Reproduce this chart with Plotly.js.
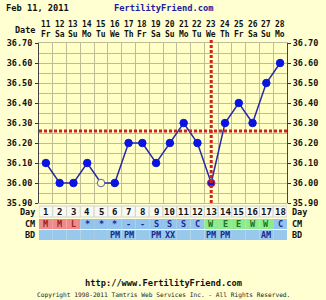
<!DOCTYPE html>
<html><head><meta charset="utf-8">
<script src="https://cdn.plot.ly/plotly-3.0.1.min.js"></script>
<style>html,body{margin:0;padding:0;background:#FFFFD2;}#c{width:326px;height:300px;}</style>
</head><body><div id="c"></div>
<script>
// ---- data ----
const cycleDays = [1,2,3,4,5,6,7,8,9,10,11,12,13,14,15,16,17,18];
const dates = ["11","12","13","14","15","16","17","18","19","20","21","22","23","24","25","26","27","28"];
const weekdays = ["Fr","Sa","Su","Mo","Tu","We","Th","Fr","Sa","Su","Mo","Tu","We","Th","Fr","Sa","Su","Mo"];
const temps = [36.10,36.00,36.00,36.10,36.00,36.00,36.20,36.20,36.10,36.20,36.30,36.20,36.00,36.30,36.40,36.30,36.50,36.60];
const openPointDays = [5];
const ovulationDay = 13;
const coverline = 36.26;
const cmCodes = ["M","M","L","*","*","*","-","-","S","S","S","C","W","E","E","W","W","C"];
const bdCodes = ["","","","","","PM","PM","","PM","XX","","","PM","PM","","","AM",""];
const yTicks = [35.9,36.0,36.1,36.2,36.3,36.4,36.5,36.6,36.7];
const titleDate = "Feb 11, 2011";
const siteName = "FertilityFriend.com";
const footerUrl = "http://www.FertilityFriend.com";
const copyright = "Copyright 1998-2011 Tamtris Web Services Inc. - All Rights Reserved.";

// ---- styling ----
const MONO = "DejaVu Sans Mono, Liberation Mono, monospace";
const gridCol = "#BDBD98";
const H = 300, T = 43, B = 97, PH = H - T - B;
const py = p => (H - B - p) / PH; // pixel y -> paper y
const b = s => "<b>" + s + "</b>";

const cmFill = c => (c === "M" || c === "L") ? "#EE8C8C" : (c === "W" || c === "E") ? "#8CEB8C" : "#94C4EE";
const cmText = c => (c === "M" || c === "L") ? "#A02020" : (c === "W" || c === "E") ? "#207020" : "#1A2A90";

const shapes = [];
const ann = [];

const rows = {day:[206,217], cm:[219,229], bd:[230,240]};
cycleDays.forEach((d, i) => {
  shapes.push({type:"rect", xref:"x", yref:"paper", x0:d-0.5, x1:d+0.5, y0:py(rows.day[1]), y1:py(rows.day[0]),
    fillcolor:"#F8F8F4", line:{color:"#D4D4C8", width:1}, layer:"below"});
  shapes.push({type:"rect", xref:"x", yref:"paper", x0:d-0.5, x1:d+0.5, y0:py(rows.cm[1]), y1:py(rows.cm[0]),
    fillcolor:cmFill(cmCodes[i]), line:{width:0}, layer:"below"});
  shapes.push({type:"rect", xref:"x", yref:"paper", x0:d-0.5, x1:d+0.5, y0:py(rows.bd[1]), y1:py(rows.bd[0]),
    fillcolor:"#98C8EC", line:{width:0}, layer:"below"});
  ann.push({xref:"x", yref:"paper", x:d, y:py(212), text:b(String(d)), showarrow:false,
    font:{family:MONO, size:9, color:"#111"}, yanchor:"middle"});
  ann.push({xref:"x", yref:"paper", x:d, y:py(224), text:b(cmCodes[i]), showarrow:false,
    font:{family:MONO, size:8.5, color:cmText(cmCodes[i])}, yanchor:"middle"});
  if (bdCodes[i]) ann.push({xref:"x", yref:"paper", x:d, y:py(235), text:b(bdCodes[i]), showarrow:false,
    font:{family:MONO, size:8.5, color:"#1A2A90"}, yanchor:"middle"});
  ann.push({xref:"x", yref:"paper", x:d, y:py(25), text:b(dates[i]), showarrow:false,
    font:{family:MONO, size:8, color:"#111"}, yanchor:"middle"});
  ann.push({xref:"x", yref:"paper", x:d, y:py(35), text:b(weekdays[i]), showarrow:false,
    font:{family:MONO, size:8, color:"#111"}, yanchor:"middle"});
});
[["Day",212],["CM",224],["BD",235]].forEach(([t,p]) => {
  ann.push({xref:"paper", yref:"paper", x:0, xshift:-2, xanchor:"right", y:py(p), text:b(t), showarrow:false,
    font:{family:MONO, size:8.5, color:"#111"}, yanchor:"middle"});
  ann.push({xref:"paper", yref:"paper", x:1, xshift:3, xanchor:"left", y:py(p), text:b(t), showarrow:false,
    font:{family:MONO, size:8.5, color:"#111"}, yanchor:"middle"});
});
ann.push({xref:"paper", yref:"paper", x:0, xshift:-2, xanchor:"right", y:py(30), text:b("Date"), showarrow:false,
  font:{family:MONO, size:8.5, color:"#111"}, yanchor:"middle"});
ann.push({xref:"paper", yref:"paper", x:0, xshift:-35, xanchor:"left", y:py(8), text:b(titleDate), showarrow:false,
  font:{family:MONO, size:8.7, color:"#111"}, yanchor:"middle"});
ann.push({xref:"paper", yref:"paper", x:0.5, xanchor:"center", y:py(8), text:b(siteName), showarrow:false,
  font:{family:MONO, size:8.7, color:"#2020A0"}, yanchor:"middle"});
ann.push({xref:"paper", yref:"paper", x:0.5, xanchor:"center", y:py(283), text:b(footerUrl), showarrow:false,
  font:{family:MONO, size:8.7, color:"#111"}, yanchor:"middle"});
ann.push({xref:"paper", yref:"paper", x:0.5, xanchor:"center", y:py(295), text:copyright, showarrow:false,
  font:{family:MONO, size:6.2, color:"#222"}, yanchor:"middle"});

shapes.push({type:"line", xref:"paper", yref:"y", x0:0, x1:1, y0:coverline, y1:coverline,
  line:{color:"#CC2222", width:3, dash:"3px,2px"}});
shapes.push({type:"line", xref:"x", yref:"paper", x0:ovulationDay, x1:ovulationDay, y0:0, y1:py(39),
  line:{color:"#CC2222", width:3, dash:"3px,2px"}});

const mFill = cycleDays.map(d => openPointDays.includes(d) ? "#FFFFC8" : "#0A14E0");
const mLine = cycleDays.map(d => openPointDays.includes(d) ? "#6060A0" : (d === ovulationDay ? "#C02050" : "#0A14E0"));

const traces = [
  {x:cycleDays, y:temps, type:"scatter", mode:"lines+markers", cliponaxis:false,
   line:{color:"#2828A8", width:1.5},
   marker:{size:7.5, color:mFill, line:{color:mLine, width:1}}, hoverinfo:"skip"},
  {x:[1], y:[36.0], yaxis:"y2", type:"scatter", mode:"markers", marker:{opacity:0}, hoverinfo:"skip"}
];

const yBase = {range:[35.9,36.7], tickvals:yTicks, tickformat:".2f", ticks:"outside", ticklen:3, tickcolor:"#333",
  tickfont:{family:MONO, size:8.5, color:"#111", weight:"bold"}, showline:true, linecolor:"#444", linewidth:1, fixedrange:true, zeroline:false};

const layout = {
  width:326, height:300, margin:{l:39, r:39, t:T, b:B},
  paper_bgcolor:"#FFFFD2", plot_bgcolor:"#FFFFC6", showlegend:false,
  xaxis:{range:[0.5,18.5], tick0:0.5, dtick:1, showticklabels:false, ticks:"", showgrid:true, gridcolor:gridCol, gridwidth:1,
    zeroline:false, showline:true, linecolor:gridCol, mirror:true},
  yaxis:Object.assign({}, yBase, {side:"left", showgrid:true, gridcolor:gridCol, ticklabelstandoff:1,
    minor:{dtick:0.05, tick0:35.9, showgrid:true, gridcolor:gridCol, gridwidth:1}}),
  yaxis2:Object.assign({}, yBase, {side:"right", overlaying:"y", showgrid:false}),
  shapes:shapes, annotations:ann
};
Plotly.newPlot("c", traces, layout, {displayModeBar:false, staticPlot:true});
</script></body></html>
